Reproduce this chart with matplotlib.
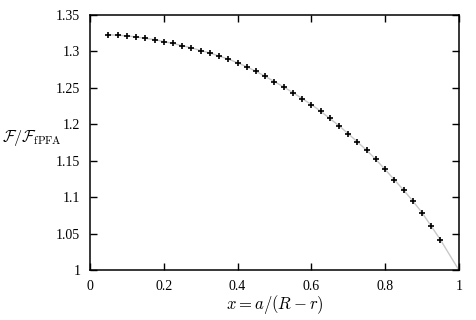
import matplotlib
matplotlib.use("Agg")
import matplotlib.pyplot as plt

# ratio F / F_fPFA against x = a/(R-r)
x_vals = [0.05, 0.075, 0.1, 0.125, 0.15, 0.175, 0.2, 0.225, 0.25, 0.275,
          0.3, 0.325, 0.35, 0.375, 0.4, 0.425, 0.45, 0.475, 0.5, 0.525,
          0.55, 0.575, 0.6, 0.625, 0.65, 0.675, 0.7, 0.725, 0.75, 0.775,
          0.8, 0.825, 0.85, 0.875, 0.9, 0.925, 0.95]
ratio = [1.3230, 1.3223, 1.3213, 1.3200, 1.3180, 1.3163, 1.3136, 1.3110, 1.3080, 1.3050,
         1.3013, 1.2980, 1.2937, 1.2896, 1.2845, 1.2790, 1.2727, 1.2659, 1.2586, 1.2514,
         1.2436, 1.2354, 1.2272, 1.2181, 1.2081, 1.1981, 1.1872, 1.1758, 1.1645, 1.1518,
         1.1381, 1.1240, 1.1099, 1.0949, 1.0789, 1.0603, 1.0416]
# curve ends at (1, 1)
curve_x = x_vals + [1.0]
curve_y = ratio + [1.0]

x_ticks = [0, 0.2, 0.4, 0.6, 0.8, 1]
x_ticklabels = ["0", "0.2", "0.4", "0.6", "0.8", "1"]
y_ticks = [1, 1.05, 1.1, 1.15, 1.2, 1.25, 1.3, 1.35]
y_ticklabels = ["1", "1.05", "1.1", "1.15", "1.2", "1.25", "1.3", "1.35"]

plt.rcParams['font.family'] = ['Liberation Serif', 'DejaVu Serif']
plt.rcParams['mathtext.fontset'] = 'cm'

fig = plt.figure(figsize=(4.76, 3.2), dpi=100)
ax = fig.add_axes([0.189, 0.156, 0.775, 0.797])

ax.plot(curve_x, curve_y, color="#c8c8c8", lw=1.0, zorder=1)
ax.plot(x_vals, ratio, ls="none", marker="+", ms=4.5, mew=1.2, color="black", zorder=2)

ax.set_xlim(0, 1)
ax.set_ylim(1, 1.35)
ax.set_xticks(x_ticks)
ax.set_xticklabels(x_ticklabels)
ax.set_yticks(y_ticks)
ax.set_yticklabels(y_ticklabels)
ax.tick_params(direction="in", length=5, width=1, top=True, right=True,
               labelsize=10, pad=7)
for s in ax.spines.values():
    s.set_linewidth(1.1)

ax.set_xlabel(r"$x = a/(R-r)$", fontsize=12, labelpad=0)
fig.text(0.004, 0.568, r"$\mathcal{F}/\mathcal{F}_{\mathrm{fPFA}}$", fontsize=11.5,
         ha="left", va="center")

plt.savefig("out.png", dpi=100)
